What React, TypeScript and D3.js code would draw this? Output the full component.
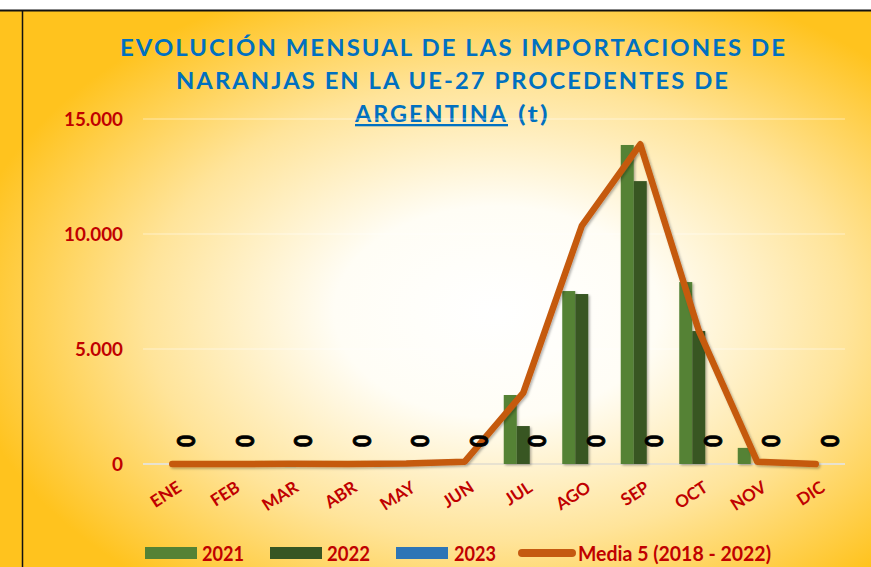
import React from 'react';
import * as d3 from 'd3';

// --- Data ---
const months = ['ENE', 'FEB', 'MAR', 'ABR', 'MAY', 'JUN', 'JUL', 'AGO', 'SEP', 'OCT', 'NOV', 'DIC'];
const series2021 = [0, 0, 0, 0, 0, 0, 3000, 7520, 13870, 7910, 700, 0];
const series2022 = [0, 0, 0, 0, 0, 0, 1650, 7390, 12300, 5780, 0, 0];
const series2023 = [0, 0, 0, 0, 0, 0, 0, 0, 0, 0, 0, 0];
const media5 = [0, 0, 10, 0, 20, 100, 3090, 10350, 13900, 5800, 100, 0];
const yTicks = [0, 5000, 10000, 15000];
const legendItems = ['2021', '2022', '2023', 'Media 5 (2018 - 2022)'];

const W = 871;
const H = 567;
const margin = { left: 143, right: 26, top: 119, bottom: 103 };
const colors = { c2021: '#548235', c2022: '#375623', c2023: '#2E75B6', media: '#C55A11' };
const red = '#C00000';
const font = 'Lato, "Open Sans", sans-serif';

const fmt = (v: number) => (v === 0 ? '0' : d3.format(',')(v).replace(/,/g, '.'));

export default function App() {
    const x = d3.scaleBand<string>().domain(months).range([margin.left, W - margin.right]);
    const y = d3.scaleLinear().domain([0, 15000]).range([H - margin.bottom, margin.top]);
    const bw = 13;
    const bars = [
        { data: series2021, color: colors.c2021, off: -1.5 * bw },
        { data: series2022, color: colors.c2022, off: -0.5 * bw },
        { data: series2023, color: colors.c2023, off: 0.5 * bw },
    ];
    const cx = (m: string) => (x(m) as number) + x.bandwidth() / 2;
    const line = d3.line<number>()
        .x((_, i) => cx(months[i]))
        .y(d => y(d));

    // legend: swatch x, text x, text width
    const legendPos = [[145, 202, 42], [270, 327, 43], [396, 454, 42], [518, 578, 193]];

    return (
        <svg width={W} height={H} style={{ position: 'absolute', left: 0, top: 0 }} fontFamily={font}>
            <defs>
                <radialGradient id="bg" cx="0.57" cy="0.55" r="0.62" gradientUnits="objectBoundingBox">
                    <stop offset="0" stopColor="#FFFFFF" />
                    <stop offset="0.3" stopColor="#FFFDF5" />
                    <stop offset="0.65" stopColor="#FFE49A" />
                    <stop offset="1" stopColor="#FFC31E" />
                </radialGradient>
                <filter id="sh" x="-20%" y="-20%" width="140%" height="140%">
                    <feDropShadow dx="1.5" dy="1.5" stdDeviation="1.2" floodColor="#000" floodOpacity="0.3" />
                </filter>
            </defs>
            <rect x={0} y={0} width={W} height={H} fill="url(#bg)" />
            <rect x={0} y={0} width={W} height={10} fill="#fff" />
            <line x1={0} x2={W} y1={10.5} y2={10.5} stroke="#111" strokeWidth={2} />
            <line x1={22.5} x2={22.5} y1={10} y2={H} stroke="#111" strokeWidth={1.5} />

            {/* title */}
            <g fill="#0070C0" fontWeight={700} fontSize={23} letterSpacing={2}>
                <text x={120} y={56} textLength={667} lengthAdjust="spacingAndGlyphs">EVOLUCIÓN MENSUAL DE LAS IMPORTACIONES DE</text>
                <text x={176} y={89} textLength={554} lengthAdjust="spacingAndGlyphs">NARANJAS EN LA UE-27 PROCEDENTES DE</text>
                <text x={355} y={122} textDecoration="underline" textLength={153} lengthAdjust="spacingAndGlyphs">ARGENTINA</text>
                <text x={518} y={122} textLength={32} lengthAdjust="spacingAndGlyphs">(t)</text>
            </g>

            {/* gridlines */}
            {yTicks.map(t => (
                <line key={t} x1={margin.left} x2={W - margin.right} y1={y(t)} y2={y(t)}
                    stroke={t === 0 ? '#E8E2D0' : '#FFFFFF'} strokeOpacity={t === 0 ? 1 : 0.5} strokeWidth={t === 0 ? 2 : 1} />
            ))}

            {/* y labels */}
            {yTicks.map(t => {
                const s = fmt(t);
                const w = s.length === 1 ? 11 : s.length === 5 ? 48 : 59;
                return (
                    <text key={t} x={123 - w} y={y(t) + 7} fill={red} fontWeight={700} fontSize={19}
                        textLength={w} lengthAdjust="spacingAndGlyphs">{s}</text>
                );
            })}

            {/* bars */}
            {bars.map((s, si) => (
                <g key={si} filter="url(#sh)">
                    {s.data.map((v, i) => v > 0 && (
                        <rect key={i} x={cx(months[i]) + s.off} width={bw} y={y(v)} height={y(0) - y(v)} fill={s.color} />
                    ))}
                </g>
            ))}

            {/* media line */}
            <path d={line(media5) || ''} fill="none" stroke={colors.media} strokeWidth={6.5}
                strokeLinejoin="round" strokeLinecap="round" filter="url(#sh)" />

            {/* 2023 data labels */}
            {series2023.map((v, i) => {
                const lx = cx(months[i]) + bw;
                const ly = 441;
                return (
                    <text key={i} x={lx - 6} y={ly} transform={`rotate(-90 ${lx} ${ly})`}
                        dominantBaseline="central" fontWeight={900} fontSize={25} fill="#000"
                        stroke="#000" strokeWidth={0.8}
                        textLength={12} lengthAdjust="spacingAndGlyphs">{fmt(v)}</text>
                );
            })}

            {/* x labels */}
            {months.map(m => {
                const lx = cx(m) + 3;
                const ly = 479;
                return (
                    <text key={m} x={lx} y={ly} transform={`rotate(-33 ${lx} ${ly})`} textAnchor="end"
                        dominantBaseline="hanging" fill={red} fontWeight={700} fontSize={17}>{m}</text>
                );
            })}

            {/* legend */}
            <g fontWeight={700} fontSize={20} fill={red}>
                {legendItems.map((t, i) => {
                    const [sx, tx, tw] = legendPos[i];
                    return (
                        <g key={t}>
                            {i < 3
                                ? <rect x={sx} y={547} width={52} height={12} fill={[colors.c2021, colors.c2022, colors.c2023][i]} />
                                : <line x1={sx + 4} x2={sx + 54} y1={553} y2={553} stroke={colors.media} strokeWidth={8} strokeLinecap="round" />}
                            <text x={tx} y={561} textLength={tw} lengthAdjust="spacingAndGlyphs">{t}</text>
                        </g>
                    );
                })}
            </g>
        </svg>
    );
}
